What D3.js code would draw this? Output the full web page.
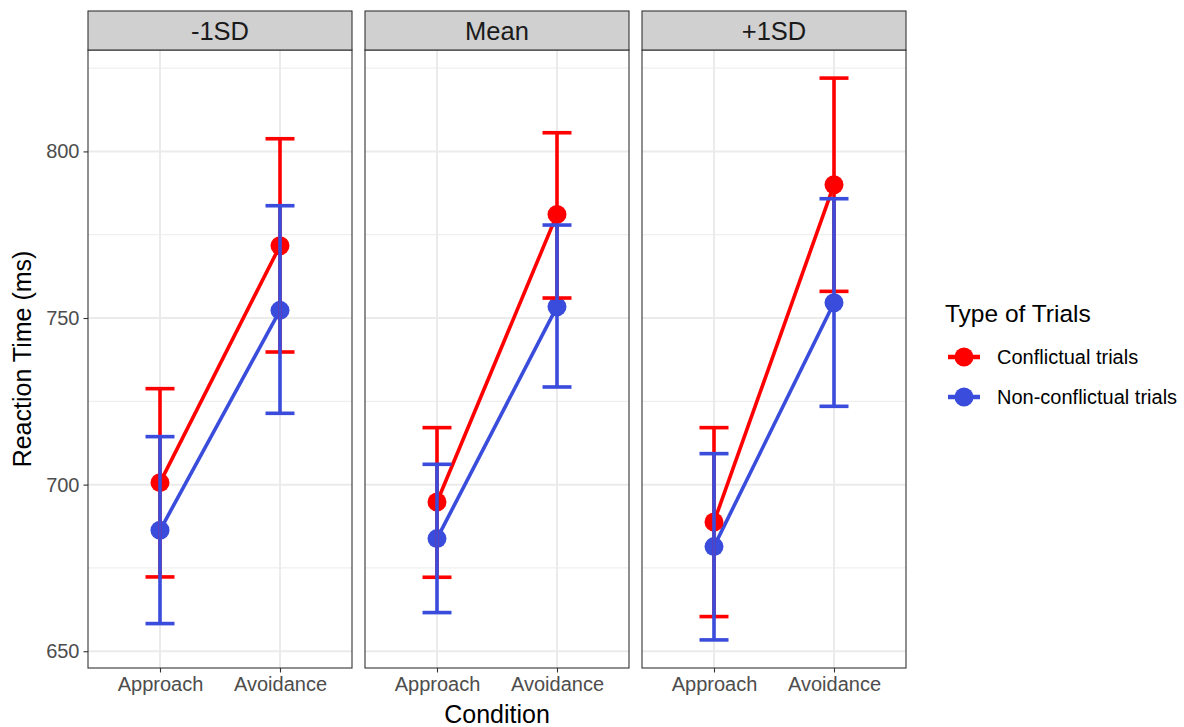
<!DOCTYPE html>
<html>
<head>
<meta charset="utf-8">
<script src="https://cdn.jsdelivr.net/npm/d3@7"></script>
<style>
  html, body { margin: 0; padding: 0; background: #fff; }
  svg { display: block; font-family: "Liberation Sans", Arial, Helvetica, sans-serif; }
</style>
</head>
<body>
<svg id="chart" width="1184" height="727"></svg>
<script>
// ---- data ----
const panels = ["-1SD", "Mean", "+1SD"];
const conditions = ["Approach", "Avoidance"];
const seriesNames = ["Conflictual trials", "Non-conflictual trials"];
const yTicks = [650, 700, 750, 800];
const yMinorTicks = [675, 725, 775, 825];

// [panel][condition]
const conflictMean  = [[700.6, 771.7], [694.8, 781.1], [688.8, 790.0]];
const conflictLower = [[672.3, 739.8], [672.2, 756.0], [660.4, 758.0]];
const conflictUpper = [[728.8, 803.8], [717.1, 805.6], [717.1, 822.0]];
const nonMean       = [[686.3, 752.3], [683.8, 753.4], [681.4, 754.6]];
const nonLower      = [[658.3, 721.4], [661.6, 729.3], [653.4, 723.5]];
const nonUpper      = [[714.4, 783.7], [706.1, 777.9], [709.3, 785.8]];

const colors = ["#FF0000", "#3A4CDC"];

// ---- layout ----
const svg = d3.select("#chart");
const panelW = 264, gap = 13, panelLeft = 88;
const stripTop = 11, stripBottom = 50, plotBottom = 668;
const tickFont = 20, titleFont = 25;

const series = [
  { name: seriesNames[0], mean: conflictMean, lo: conflictLower, hi: conflictUpper, color: colors[0] },
  { name: seriesNames[1], mean: nonMean, lo: nonLower, hi: nonUpper, color: colors[1] }
];

const allVals = [].concat(...series.map(s => [s.lo.flat(), s.hi.flat(), s.mean.flat()].flat()));
const vmin = d3.min(allVals), vmax = d3.max(allVals);
const pad = (vmax - vmin) * 0.05;
const y = d3.scaleLinear().domain([vmin - pad, vmax + pad]).range([plotBottom, stripBottom]);

const px = d3.scaleBand().domain(panels).range([panelLeft, panelLeft + 3 * panelW + 2 * gap]).paddingInner(gap / (panelW + gap)).paddingOuter(0);

panels.forEach((p, pi) => {
  const x0 = px(p);
  const g = svg.append("g").attr("transform", `translate(${x0},0)`);
  const x = d3.scalePoint().domain(conditions).range([0, panelW]).padding(0.6);

  g.append("rect").attr("x", 0).attr("y", stripBottom).attr("width", panelW).attr("height", plotBottom - stripBottom).attr("fill", "#fff");

  g.selectAll(".minor").data(yMinorTicks.filter(t => y(t) > stripBottom && y(t) < plotBottom)).enter()
    .append("line").attr("x1", 0).attr("x2", panelW).attr("y1", d => y(d)).attr("y2", d => y(d))
    .attr("stroke", "#EBEBEB").attr("stroke-width", 1);
  g.selectAll(".major").data(yTicks).enter()
    .append("line").attr("x1", 0).attr("x2", panelW).attr("y1", d => y(d)).attr("y2", d => y(d))
    .attr("stroke", "#EBEBEB").attr("stroke-width", 2);
  g.selectAll(".vmajor").data(conditions).enter()
    .append("line").attr("x1", d => x(d)).attr("x2", d => x(d)).attr("y1", stripBottom).attr("y2", plotBottom)
    .attr("stroke", "#EBEBEB").attr("stroke-width", 2);

  series.forEach(s => {
    const pts = conditions.map((c, ci) => [x(c), y(s.mean[pi][ci])]);
    g.append("path").attr("d", d3.line()(pts)).attr("fill", "none")
      .attr("stroke", s.color).attr("stroke-width", 3.6);
  });
  series.forEach(s => {
    conditions.forEach((c, ci) => {
      g.append("circle").attr("cx", x(c)).attr("cy", y(s.mean[pi][ci])).attr("r", 9.5).attr("fill", s.color);
    });
  });
  series.forEach(s => {
    conditions.forEach((c, ci) => {
      const cx = x(c), lo = y(s.lo[pi][ci]), hi = y(s.hi[pi][ci]);
      const eg = g.append("g").attr("stroke", s.color).attr("stroke-width", 3.6).attr("fill", "none");
      eg.append("line").attr("x1", cx).attr("x2", cx).attr("y1", lo).attr("y2", hi);
      eg.append("line").attr("x1", cx - 14.5).attr("x2", cx + 14.5).attr("y1", lo).attr("y2", lo);
      eg.append("line").attr("x1", cx - 14.5).attr("x2", cx + 14.5).attr("y1", hi).attr("y2", hi);
    });
  });

  g.append("rect").attr("x", 0).attr("y", stripBottom).attr("width", panelW).attr("height", plotBottom - stripBottom)
    .attr("fill", "none").attr("stroke", "#333").attr("stroke-width", 1.1);

  g.append("rect").attr("x", 0).attr("y", stripTop).attr("width", panelW).attr("height", stripBottom - stripTop)
    .attr("fill", "#D0D0D0").attr("stroke", "#333").attr("stroke-width", 1.1);
  g.append("text").attr("x", panelW / 2).attr("y", (stripTop + stripBottom) / 2).attr("dy", "0.36em")
    .attr("text-anchor", "middle").attr("font-size", 25.5).attr("fill", "#1A1A1A").text(p);

  const xa = g.append("g").attr("transform", `translate(0,${plotBottom})`)
    .call(d3.axisBottom(x).tickSize(4.5).tickPadding(4));
  xa.select(".domain").remove();
  xa.selectAll(".tick line").attr("stroke", "#333").attr("stroke-width", 1.1);
  xa.selectAll(".tick text").attr("font-size", tickFont).attr("fill", "#4D4D4D").attr("font-family", "Liberation Sans, Arial, sans-serif");

  if (pi === 0) {
    const ya = g.append("g").call(d3.axisLeft(y).tickValues(yTicks).tickSize(4.5).tickPadding(4));
    ya.select(".domain").remove();
    ya.selectAll(".tick line").attr("stroke", "#333").attr("stroke-width", 1.1);
    ya.selectAll(".tick text").attr("font-size", tickFont).attr("fill", "#4D4D4D").attr("font-family", "Liberation Sans, Arial, sans-serif");
  }
});

const plotsCenter = (panelLeft + panelLeft + 3 * panelW + 2 * gap) / 2;
svg.append("text").attr("x", plotsCenter).attr("y", 723).attr("text-anchor", "middle")
  .attr("font-size", titleFont).attr("fill", "#000").text("Condition");
svg.append("text").attr("transform", `translate(31,${(stripBottom + plotBottom) / 2}) rotate(-90)`)
  .attr("text-anchor", "middle").attr("font-size", titleFont).attr("fill", "#000").text("Reaction Time (ms)");

const lg = svg.append("g").attr("transform", "translate(945,0)");
lg.append("text").attr("x", 0).attr("y", 322).attr("font-size", 24.5).attr("fill", "#000").text("Type of Trials");
const legendY = [357, 397];
series.forEach((s, i) => {
  const ky = legendY[i];
  lg.append("line").attr("x1", 3).attr("x2", 35).attr("y1", ky).attr("y2", ky).attr("stroke", s.color).attr("stroke-width", 4.5);
  lg.append("circle").attr("cx", 19).attr("cy", ky).attr("r", 9.5).attr("fill", s.color);
  lg.append("text").attr("x", 52).attr("y", ky).attr("dy", "0.36em").attr("font-size", tickFont).attr("fill", "#000").text(s.name);
});
</script>
</body>
</html>
